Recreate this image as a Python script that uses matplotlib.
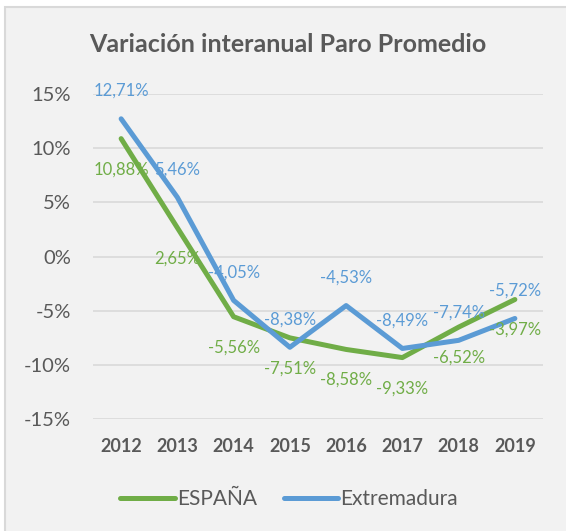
import matplotlib
matplotlib.use("Agg")
import matplotlib.pyplot as plt
from matplotlib.patches import Rectangle
from matplotlib.lines import Line2D

years = ["2012", "2013", "2014", "2015", "2016", "2017", "2018", "2019"]
espana = [10.88, 2.65, -5.56, -7.51, -8.58, -9.33, -6.52, -3.97]
extremadura = [12.71, 5.46, -4.05, -8.38, -4.53, -8.49, -7.74, -5.72]
y_ticks = [-15, -10, -5, 0, 5, 10, 15]

GREEN = "#70ad47"
BLUE = "#5b9bd5"
TEXT = "#595959"
BG = "#f2f2f2"
GRID = "#d9d9d9"
FONT = "Lato"

W, H = 566, 531
fig = plt.figure(figsize=(W / 100, H / 100), dpi=100, facecolor="white")

# chart area panel with a thin border
fig.patches.append(Rectangle((5 / W, -0.05), 1.2, 1 - 7 / H + 0.05,
                             transform=fig.transFigure, facecolor=BG,
                             edgecolor=GRID, linewidth=1.5, zorder=-10))

ax = fig.add_axes([93 / W, 1 - 419 / H, (543 - 93) / W, (419 - 94) / H])
ax.patch.set_alpha(0)

x = list(range(len(years)))
ax.set_xlim(-0.5, len(years) - 0.5)
ax.set_ylim(-15, 15)

for t in y_ticks:
    ax.axhline(t, color=GRID, linewidth=1.2, zorder=1)

ax.plot(x, espana, color=GREEN, linewidth=3.6, solid_capstyle="round",
        solid_joinstyle="round", zorder=3)
ax.plot(x, extremadura, color=BLUE, linewidth=3.6, solid_capstyle="round",
        solid_joinstyle="round", zorder=4)

def fmt(v):
    return f"{v:.2f}".replace(".", ",") + "%"

for xi, v in zip(x, espana):
    ax.annotate(fmt(v), (xi, v), xytext=(0, -22), textcoords="offset points",
                ha="center", va="center", color=GREEN, fontsize=12,
                family=FONT, zorder=6)
for xi, v in zip(x, extremadura):
    ax.annotate(fmt(v), (xi, v), xytext=(0, 20), textcoords="offset points",
                ha="center", va="center", color=BLUE, fontsize=12,
                family=FONT, zorder=6)

ax.set_yticks(y_ticks)
ax.set_yticklabels([f"{t}%" for t in y_ticks], fontsize=14.5, color=TEXT,
                   family=FONT)
ax.set_xticks(x)
ax.set_xticklabels(years, fontsize=13, fontweight="bold", color=TEXT,
                   family=FONT)
ax.tick_params(axis="y", length=0, pad=16)
ax.tick_params(axis="x", length=0, pad=14)
for s in ax.spines.values():
    s.set_visible(False)

fig.text(288 / W, 1 - 45 / H, "Variación interanual Paro Promedio",
         ha="center", va="center", fontsize=18, fontweight="bold",
         color=TEXT, family=FONT)

handles = [Line2D([], [], color=GREEN, linewidth=3.6, solid_capstyle="round"),
           Line2D([], [], color=BLUE, linewidth=3.6, solid_capstyle="round")]
leg = fig.legend(handles, ["ESPAÑA", "Extremadura"], loc="center",
                 bbox_to_anchor=(289 / W, 1 - 499 / H), ncol=2, frameon=False,
                 handlelength=2.6, handletextpad=0.1, columnspacing=1.3,
                 prop={"family": FONT, "size": 15})
for t in leg.get_texts():
    t.set_color(TEXT)

fig.savefig("out.png", dpi=100, facecolor="white")
